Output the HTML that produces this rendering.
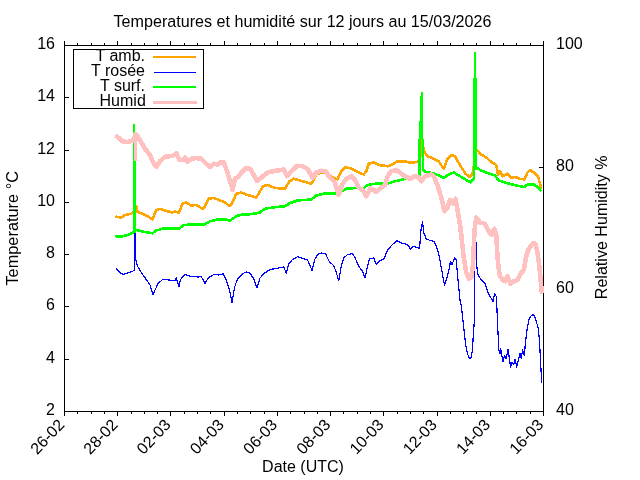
<!DOCTYPE html>
<html lang="fr"><head><meta charset="utf-8"><title>Temperatures et humidité</title>
<style>
html,body{margin:0;padding:0;background:#fff;}
body{width:640px;height:480px;overflow:hidden;}
svg{display:block;will-change:transform;}
text{font-family:"Liberation Sans",Arial,Helvetica,sans-serif;font-size:16px;fill:#000;}
.ax{stroke:#000;stroke-width:1;fill:none;shape-rendering:crispEdges;}
.c{fill:none;stroke-linejoin:round;stroke-linecap:butt;shape-rendering:crispEdges;}
</style></head><body>
<svg width="640" height="480" viewBox="0 0 640 480">
<rect x="0" y="0" width="640" height="480" fill="#ffffff"/>
<text x="302.5" y="26.75" text-anchor="middle" style="font-size:16.12px">Temperatures et humidité sur 12 jours au 15/03/2026</text>
<path class="ax" d="M64,45.5H544M64,411.5H544M64.5,45V412M543.5,45V412M64.5,412V416M64.5,41V45M77.5,412V414M77.5,43V45M91.5,412V414M91.5,43V45M104.5,412V414M104.5,43V45M117.5,412V416M117.5,41V45M131.5,412V414M131.5,43V45M144.5,412V414M144.5,43V45M157.5,412V414M157.5,43V45M170.5,412V416M170.5,41V45M184.5,412V414M184.5,43V45M197.5,412V414M197.5,43V45M210.5,412V414M210.5,43V45M224.5,412V416M224.5,41V45M237.5,412V414M237.5,43V45M250.5,412V414M250.5,43V45M264.5,412V414M264.5,43V45M277.5,412V416M277.5,41V45M290.5,412V414M290.5,43V45M304.5,412V414M304.5,43V45M317.5,412V414M317.5,43V45M330.5,412V416M330.5,41V45M343.5,412V414M343.5,43V45M357.5,412V414M357.5,43V45M370.5,412V414M370.5,43V45M383.5,412V416M383.5,41V45M397.5,412V414M397.5,43V45M410.5,412V414M410.5,43V45M423.5,412V414M423.5,43V45M437.5,412V416M437.5,41V45M450.5,412V414M450.5,43V45M463.5,412V414M463.5,43V45M476.5,412V414M476.5,43V45M490.5,412V416M490.5,41V45M503.5,412V414M503.5,43V45M516.5,412V414M516.5,43V45M530.5,412V414M530.5,43V45M543.5,412V416M543.5,41V45M65,45.5H69M65,97.5H69M65,150.5H69M65,202.5H69M65,254.5H69M65,306.5H69M65,359.5H69M65,411.5H69M539,45.5H543M539,167.5H543M539,289.5H543M539,411.5H543"/>
<text x="55" y="49" text-anchor="end">16</text>
<text x="55" y="101" text-anchor="end">14</text>
<text x="55" y="154" text-anchor="end">12</text>
<text x="55" y="206" text-anchor="end">10</text>
<text x="55" y="258" text-anchor="end">8</text>
<text x="55" y="310" text-anchor="end">6</text>
<text x="55" y="363" text-anchor="end">4</text>
<text x="55" y="415" text-anchor="end">2</text>
<text x="556" y="49">100</text>
<text x="556" y="171">80</text>
<text x="556" y="293">60</text>
<text x="556" y="415">40</text>
<text transform="translate(65.30,425.6) rotate(-46.5)" text-anchor="end">26-02</text>
<text transform="translate(118.52,425.6) rotate(-46.5)" text-anchor="end">28-02</text>
<text transform="translate(171.74,425.6) rotate(-46.5)" text-anchor="end">02-03</text>
<text transform="translate(224.97,425.6) rotate(-46.5)" text-anchor="end">04-03</text>
<text transform="translate(278.19,425.6) rotate(-46.5)" text-anchor="end">06-03</text>
<text transform="translate(331.41,425.6) rotate(-46.5)" text-anchor="end">08-03</text>
<text transform="translate(384.63,425.6) rotate(-46.5)" text-anchor="end">10-03</text>
<text transform="translate(437.86,425.6) rotate(-46.5)" text-anchor="end">12-03</text>
<text transform="translate(491.08,425.6) rotate(-46.5)" text-anchor="end">14-03</text>
<text transform="translate(544.30,425.6) rotate(-46.5)" text-anchor="end">16-03</text>
<text transform="translate(17.5,228.3) rotate(-90)" text-anchor="middle" style="font-size:16.35px">Temperature °C</text>
<text transform="translate(606.6,227.3) rotate(-90)" text-anchor="middle" style="font-size:16.09px">Relative Humidity %</text>
<text x="303" y="472" text-anchor="middle">Date (UTC)</text>
<polyline class="c" stroke="#ffa500" stroke-width="2.6" points="115.5,216.5 121.25,217.5 125,215 131.25,213.75 135,210 136.25,206 137.5,212 142.5,213.75 147.5,216.25 152.5,219.5 156.25,210 160,208.75 165,210.5 172.5,212.5 175,211.25 178.75,213 182.5,203.75 186.25,202.5 191.25,205.5 196.25,205 202.5,208.75 205,206.25 208.75,198.75 213.75,198 220,200.5 225,202.5 230,206.25 232.5,202.5 236.25,193.75 241.25,192.5 247.5,195 252.5,196.25 256.25,197.5 260,191.25 263,186.25 267.5,185 275,188 285,188.75 289.5,181.25 293.75,178.75 300,180.5 311.25,183.75 313.75,180 316.25,173.75 325,172.5 328.75,175.5 333.75,178 337.5,179.5 341.25,171.25 345,167.5 350,168 356.25,171.25 363.75,174.5 366.25,171.25 368.75,163.75 373.75,162.5 378.75,165 387.5,166.25 392.5,164.5 397.5,161.25 403.75,161.25 410,162.5 417.5,162 420,158.75 422,138.75 423.75,151.25 427.5,156.25 433.75,158.75 438.75,161.25 443.75,168.75 447.5,158.75 451.25,155 455,156.25 460,165 465.5,173.75 470,177 472.5,173.75 473.75,166.25 475,150 477,150 481.25,154.5 486.25,157.5 491.25,162 496.25,165 498,174.5 500,171.25 502.5,176.25 507.5,173.75 511.25,177.5 515,177 520,178.75 524.5,179.5 527.5,172.5 530,170 533.75,172.5 538,176.25 540,183.75 541.25,188.75"/>
<polyline class="c" stroke="#0000ff" stroke-width="1.2" points="116.25,268.75 120,272.5 123,274.5 127.5,273 133.75,270.75 134.7,270 135,232 135.4,257 136,261 137.5,266.25 141.25,272.5 146.25,279.5 150,285 153,295 155,290 158,283.75 162.5,279.5 168.75,280 175,280.5 176.25,278 179,286.25 180.5,279.5 185,274.5 190,276.25 197.5,277 201.25,276.75 205,283.25 208.75,277.5 213.75,274.5 218.75,275 223,273.75 226.25,280 229.5,290 232,302.5 234.5,287.5 237.5,278.75 242.5,273.75 246.25,272 250,273.25 253.75,278.75 257,288 260,278 263.75,273.75 270,269.5 277.5,268.25 283.75,267 286.25,273 288.75,263.75 292.5,259.5 297.5,256.75 302.5,258.25 307.5,260 310,265.5 312,270.5 314.5,260 317.5,254.5 321.25,253 325.5,253.75 329.5,262 333.75,265.5 336.25,272.5 338.75,280.5 341.25,266.25 343.75,258 347.5,254.5 352.5,253.75 355,257.5 358.75,266.25 362.5,271.25 365,278 367,268.75 369.5,258.75 373.75,258 376.25,264.5 380,260.5 383.75,259.5 387.5,250 392.5,244.5 397,240.75 401.25,243 407.5,244.5 410.75,249.5 413,246.25 417.5,247.5 419.6,248.5 420.8,231.25 422.5,222 423.75,232.5 426.25,238.75 430,240.5 433.75,241.25 436.25,246.25 438.75,253.75 441.25,267.5 443.75,281.25 444.5,285.5 446.25,280 448.75,271.25 450.5,261.25 452,264.5 454.5,258 456.25,260 457.5,275 460,300 461.25,305 463.75,327.5 465.5,343.75 467.5,353.75 469.5,358.75 471.25,357 472.5,350 473.25,335 474.25,322.5 474.5,290 475,243 476.25,243 476.25,262.5 478,275 481.25,280 485,283.75 487.5,291.25 490,296.25 493,301.25 494.5,293.75 496.25,296.25 497,310 498,332.5 498.75,350 500,353.75 500.75,348.75 502,356.25 503,361.25 504.5,355.5 506.25,358.75 508,349.5 509.25,357.5 510.5,367 512,362.5 513.75,364.5 515,359.5 516.75,367 518.25,360 520,353.75 521.25,358 522.5,350 524.25,355.5 525.5,342.5 527,330 528.75,320 531.25,315.75 533.75,314.5 536.25,321.25 538,327.5 539.5,340 540.5,361.25 541.75,382.5"/>
<polyline class="c" stroke="#00ff00" stroke-width="2.6" points="115.5,236.75 122.5,236.25 127.5,235 132.5,233 134,232"/>
<polyline class="c" stroke="#00ff00" stroke-width="2.6" points="134.5,230.5 136.25,230 141.25,231.25 147.5,232.5 152.5,233.25 156.25,230.5 162.5,228.75 172.5,228.25 178.75,228.75 183.75,225 192.5,224.5 205,224.25 210,221.25 217.5,219.5 225,219.5 230,220.5 236.25,216.25 242.5,214.25 250,214.25 256.25,213.25 260,212.5 265,208.75 272.5,207.5 285,206.25 290,203 297.5,200.5 311.25,199.5 316.25,195.5 323.75,193.75 335,193.75 340,192.5 346.25,188.75 355,188 363.75,188 367.5,185 375,183.75 387.5,183.75 395,181.25 402.5,179.5 410,178 417.5,177 419.5,176.5"/>
<polyline class="c" stroke="#00ff00" stroke-width="2.6" points="423,168.5 424,171 425.5,172 427.5,172 435,173.75 443.75,178 448.75,174.5 453.75,172.5 460,176.25 466.25,180 470.5,182.5 473,179.5 474,178"/>
<polyline class="c" stroke="#00ff00" stroke-width="2.6" points="476,167 477,168 481.25,170.5 487.5,173 495,175.5 498.75,180.5 505,182.5 512.5,184.5 520,186.25 524.5,187 527.5,184.5 533.75,184.5 537.5,187 541.25,191.25"/>
<path fill="#00ff00" shape-rendering="crispEdges" d="M133,124h2v24h-2zM133,148h3v85h-3zM421,92h2v4h-2zM420,96h3v25h-3zM419,121h4v18h-4zM418.4,139h2.4v37h-2.4zM422,139h2v31h-2zM474,52h2v26h-2zM473,78h4v92h-4zM473,170h2v9h-2z"/>
<polyline class="c" stroke="#ffc0c0" stroke-width="4.6" points="115.5,135.5 118.75,138 122.5,141.25 127.5,142 132,141 133.75,138.75 135.5,134.5 137.5,136.25 141.25,142.5 145,148.75 150,155 153.75,163.75 156.25,167 160,161.25 165,156.75 170,156.25 175,155 176.25,153 179.5,160 183.75,160 185,157.5 187.5,162 191.25,158.75 196.25,158 201.25,158.75 205,162.5 210,167 213.75,163.75 217.5,164.5 221.25,162 223.75,162.5 227.5,172.5 231.25,185 232.5,190 235,178.75 238.75,176.25 242.5,171.25 246.25,168 250,168.75 253.75,175 257,181 260,178.75 263.75,175.5 268.75,172 277.5,170.5 283.75,169.5 287,176.25 291.25,171.25 297.5,165.75 302.5,166.25 307.5,168.75 312.5,178 316.25,172.5 321.25,170.75 325.5,171.25 330,177.5 335,182.5 338.75,195 342,185 346.25,178.75 351.25,176.25 355,180 358.75,187.5 363.75,191.25 366.25,196.25 370,188.75 373.75,190 376.25,192 380,188.75 385,185 388,175.5 391.25,171.25 396.25,170 400,172.5 405,176.25 410,178.75 415,176.25 418.75,177.5 421.25,181.25 425,176.25 431.25,174.5 433.75,176.25 437.5,185 441.25,197.5 444.5,211.25 447.5,207.5 450,200 453,203.75 455.5,198.75 457.5,210 460,225 461.25,235 463.75,257.5 466.25,272.5 468.75,278.75 471.25,277.5 473,265 474.5,230 476.25,217.5 480,222.5 485,223.75 488.75,231.25 491.25,235 494.5,228.75 496.25,235 497.5,257.5 499.5,275 502.5,280 505,281.25 507.5,276.25 510.5,283.75 513.75,281.25 517.5,280 521.25,272.5 523.75,270 526.25,256.25 528.75,248.75 532.5,243.75 535.5,243.75 537.5,252.5 539.5,267.5 541.25,286.25 542,293.5"/>
<rect x="134" y="133" width="3" height="28" fill="#ffc0c0" shape-rendering="crispEdges"/>
<rect x="73" y="49" width="131" height="60" fill="#fff" stroke="none"/>
<path class="ax" d="M73,49.5H204M73,108.5H204M73.5,49V109M203.5,49V109"/>
<text x="145" y="60.5" text-anchor="end">T amb.</text>
<rect x="153" y="56" width="43" height="2" fill="#ffa500" shape-rendering="crispEdges"/>
<text x="145" y="75.5" text-anchor="end">T rosée</text>
<rect x="154" y="72" width="42" height="1" fill="#0000ff" shape-rendering="crispEdges"/>
<text x="145" y="90.5" text-anchor="end">T surf.</text>
<rect x="153" y="86" width="43" height="2" fill="#00ff00" shape-rendering="crispEdges"/>
<text x="145.8" y="105.5" text-anchor="end">Humid</text>
<rect x="153" y="101" width="44" height="3" fill="#ffc0c0" shape-rendering="crispEdges"/>
</svg></body></html>
